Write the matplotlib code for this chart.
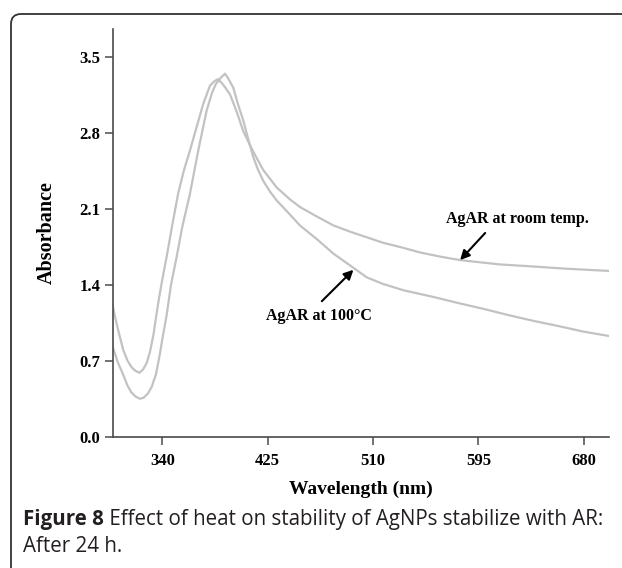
"""
Recreate Figure 8: effect of heat on stability of AgNPs stabilized with AR (after 24 h).
"""
import matplotlib
matplotlib.use("Agg")
import matplotlib.pyplot as plt
from matplotlib.patches import FancyBboxPatch

# AgAR at room temperature
wl_room = [300, 302, 304.5, 308.5, 312, 315.3, 318, 321.5, 324.5, 327.4, 330, 332.7,
           336.8, 340, 343.5, 348, 352.9, 357.5, 362.3, 367.5, 373, 378.5, 382, 385,
           389, 394.6, 400, 405.3, 409.5, 413.4, 421.5, 432.3, 443, 451, 465, 478,
           492, 505, 518, 532, 548, 565, 580, 596, 612, 640, 666, 700]
abs_room = [1.21, 1.10, 0.98, 0.80, 0.70, 0.64, 0.61, 0.59, 0.62, 0.68, 0.78, 0.93,
            1.24, 1.45, 1.66, 1.95, 2.25, 2.46, 2.64, 2.85, 3.07, 3.24, 3.28, 3.30,
            3.25, 3.16, 3.00, 2.82, 2.72, 2.63, 2.46, 2.30, 2.19, 2.12, 2.03, 1.95,
            1.89, 1.84, 1.79, 1.75, 1.70, 1.66, 1.63, 1.61, 1.59, 1.57, 1.55, 1.53]

# AgAR at 100 C
wl_hot = [300, 304, 308.5, 312, 315, 318.5, 322, 325, 328.5, 331.5, 335, 338,
          340.5, 343.5, 347, 351.6, 356, 362.3, 369, 375.8, 380, 383, 387, 390.6,
          393, 397.3, 401, 405.3, 409.5, 413.4, 417, 421.5, 427, 432.3, 443, 451,
          465, 478, 494, 505, 518, 535, 558.5, 580, 599, 620, 639, 660, 679.5, 700]
abs_hot = [0.83, 0.69, 0.57, 0.47, 0.41, 0.37, 0.35, 0.36, 0.40, 0.46, 0.58, 0.76,
           0.93, 1.12, 1.40, 1.66, 1.93, 2.24, 2.64, 3.01, 3.17, 3.25, 3.31, 3.35,
           3.31, 3.22, 3.07, 2.92, 2.74, 2.58, 2.47, 2.36, 2.26, 2.18, 2.05, 1.95,
           1.82, 1.69, 1.56, 1.47, 1.41, 1.35, 1.29, 1.23, 1.18, 1.12, 1.07, 1.02,
           0.97, 0.93]

x_ticks = [340, 425, 510, 595, 680]
y_ticks = [0.0, 0.7, 1.4, 2.1, 2.8, 3.5]

SERIF = ["Liberation Serif", "DejaVu Serif"]
SANS = ["Open Sans", "DejaVu Sans"]
LINE = "#c2c2c2"


def main():
    fig = plt.figure(figsize=(6.22, 5.68), dpi=100)
    ax = fig.add_axes([0.1812, 0.2312, 0.7971, 0.7173])

    ax.plot(wl_room, abs_room, color=LINE, lw=1.6, solid_joinstyle="round")
    ax.plot(wl_hot, abs_hot, color=LINE, lw=1.6, solid_joinstyle="round")

    ax.set_xlim(300, 700)
    ax.set_ylim(0, 3.76)
    ax.set_xticks(x_ticks)
    ax.set_yticks(y_ticks)
    ax.set_xticklabels([str(v) for v in x_ticks])
    ax.set_yticklabels([f"{v:.1f}" for v in y_ticks])

    for s in ["top", "right"]:
        ax.spines[s].set_visible(False)
    for s in ["left", "bottom"]:
        ax.spines[s].set_color("#4a4a4a")
        ax.spines[s].set_linewidth(1.2)
    ax.tick_params(direction="out", length=6, width=1.1, color="#4a4a4a")
    ax.tick_params(axis="y", pad=3)
    ax.tick_params(axis="x", pad=6)
    for lab in ax.get_xticklabels() + ax.get_yticklabels():
        lab.set_family(SERIF)
        lab.set_fontweight("bold")
        lab.set_fontsize(12)

    ax.set_xlabel("Wavelength (nm)", family=SERIF, fontweight="bold", fontsize=14, labelpad=8)
    ax.set_ylabel("Absorbance", family=SERIF, fontweight="bold", fontsize=14.5, labelpad=16)

    # curve labels and arrows
    arrow = dict(arrowstyle="-|>", color="black", lw=1.5, mutation_scale=14,
                 shrinkA=0, shrinkB=0)
    ax.annotate("", xy=(580.3, 1.63), xytext=(600.5, 1.88), arrowprops=arrow)
    ax.text(626.9, 2.01, "AgAR at room temp.", family=SERIF, fontweight="bold",
            fontsize=11.5, ha="center", va="center")
    ax.annotate("", xy=(494.2, 1.54), xytext=(468.7, 1.25), arrowprops=arrow)
    ax.text(466.6, 1.11, "AgAR at 100\u00b0C", family=SERIF, fontweight="bold",
            fontsize=11.5, ha="center", va="center")

    # rounded frame running off the right and bottom edges
    frame = FancyBboxPatch((0.11, -0.25), 6.6, 5.79,
                           boxstyle="round,pad=0,rounding_size=0.1",
                           transform=fig.dpi_scale_trans, fill=False,
                           edgecolor="#333333", lw=1.3, clip_on=False)
    fig.add_artist(frame)

    # caption
    t1 = fig.text(0.037, 1 - 519 / 568, "Figure 8", family=SANS, fontweight="bold",
                  fontsize=14.8, va="center", ha="left", color="#231f20")
    fig.canvas.draw()
    ax.annotate(" Effect of heat on stability of AgNPs stabilize with AR:",
                xy=(1, 0.5), xycoords=t1, va="center", ha="left",
                family=SANS, fontsize=14.8, color="#231f20", annotation_clip=False)
    fig.text(0.037, 1 - 546 / 568, "After 24 h.", family=SANS, fontsize=14.8,
             va="center", ha="left", color="#231f20")

    fig.savefig("out.png", dpi=100)
    plt.close(fig)


if __name__ == "__main__":
    main()
